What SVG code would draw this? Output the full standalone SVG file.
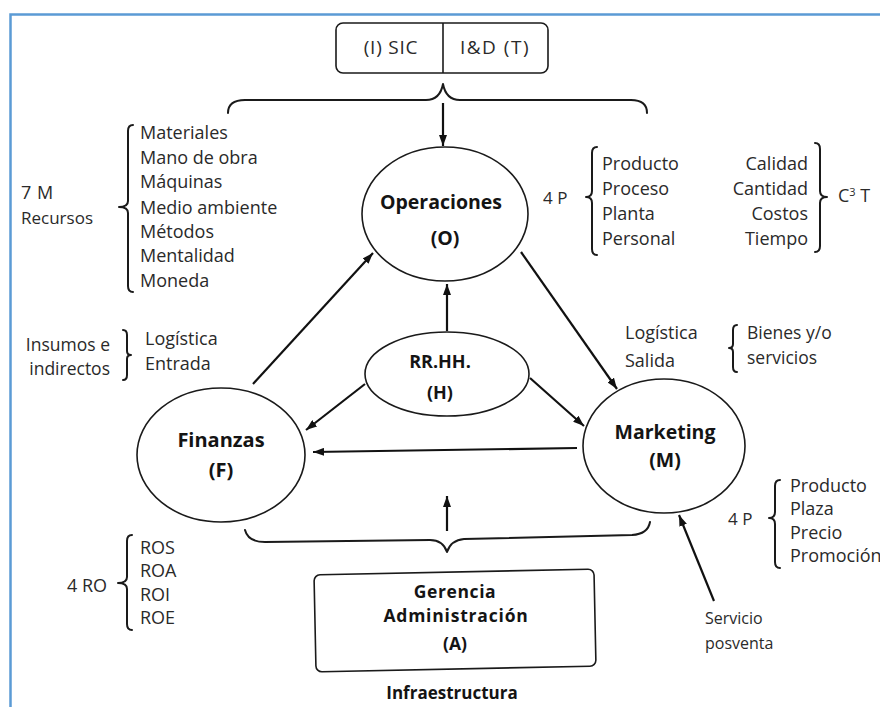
<svg xmlns="http://www.w3.org/2000/svg" width="880" height="707" viewBox="0 0 880 707">
  <defs>
    <marker id="arrow" markerUnits="userSpaceOnUse" markerWidth="12" markerHeight="8" refX="11" refY="4" orient="auto">
      <path d="M0,0 L11,4 L0,8 Z" fill="#111"/>
    </marker>
    <style>
      .txt { font-family: "Open Sans", "Noto Sans", "DejaVu Sans", sans-serif; font-size: 18px; fill: #2a2a2a; }
      .bold { font-family: "Open Sans", "Noto Sans", "DejaVu Sans", sans-serif; font-size: 19.5px; font-weight: 700; fill: #141414; text-anchor: middle; }
      .shape { fill: none; stroke: #1a1a1a; stroke-width: 1.6; }
      .conn { fill: none; stroke: #111; stroke-width: 2.2; }
      .brace { fill: none; stroke: #1a1a1a; stroke-width: 2; stroke-linejoin: round; stroke-linecap: round; }
      .end { text-anchor: end; }
      .mid { text-anchor: middle; }
    </style>
  </defs>

  <rect width="880" height="707" fill="#ffffff"/>
  <!-- frame -->
  <path d="M10.5,707 L10.5,14.5 L880,14.5" fill="none" stroke="#5b9bd5" stroke-width="2.5"/>

  <!-- connectors -->
  <g id="connectors">
    <line class="conn" x1="443" y1="103" x2="443" y2="146" marker-end="url(#arrow)"/>
    <line class="conn" x1="447" y1="331" x2="447" y2="284" marker-end="url(#arrow)"/>
    <line class="conn" x1="253" y1="384" x2="373" y2="253" marker-end="url(#arrow)"/>
    <line class="conn" x1="521" y1="252" x2="617" y2="389" marker-end="url(#arrow)"/>
    <line class="conn" x1="365" y1="384" x2="306" y2="430" marker-end="url(#arrow)"/>
    <line class="conn" x1="530" y1="378" x2="584" y2="426" marker-end="url(#arrow)"/>
    <line class="conn" x1="577" y1="448" x2="313" y2="452" marker-end="url(#arrow)"/>
    <line class="conn" x1="447" y1="531" x2="447" y2="496" marker-end="url(#arrow)"/>
    <line class="conn" x1="714" y1="601" x2="679" y2="515" marker-end="url(#arrow)"/>
  </g>

  <!-- top box: SIC / I&D -->
  <g id="top-box">
    <rect class="shape" x="336" y="23" width="212" height="50" rx="7"/>
    <line class="shape" x1="443" y1="23" x2="443" y2="73"/>
    <text class="txt mid" x="391" y="54" style="font-size:19px;letter-spacing:0.8px">(I) SIC</text>
    <text class="txt mid" x="495" y="54" style="font-size:19px;letter-spacing:1.5px">I&amp;D (T)</text>
  </g>

  <!-- braces -->
  <g id="braces">
    <path class="brace" d="M228,113 Q228,100 245,100 L426,100 Q440,100 443,84 Q446,100 460,100 L631,100 Q647,100 647,113"/>
    <path class="brace" d="M245,530 Q248,542 265,542 L430,540 Q443,540 447,552 Q451,540 464,539 L632,535 Q648,534 650,522"/>
    <!-- 7 M -->
    <path class="brace" d="M133,125 Q128,125 128,131 L128,201 Q128,207 119,207 Q128,207 128,213 L128,286 Q128,292 133,292"/>
    <!-- 4 P operaciones -->
    <path class="brace" d="M597,147 Q592,147 592,153 L592,191 Q592,197 586,197 Q592,197 592,203 L592,249 Q592,255 597,255"/>
    <!-- C3T -->
    <path class="brace" d="M815,143 Q820,143 820,149 L820,191 Q820,197 827,197 Q820,197 820,203 L820,246 Q820,252 815,252"/>
    <!-- Insumos -->
    <path class="brace" d="M123,330 Q127,330 127,335 L127,351 Q127,355 131,355 Q127,355 127,359 L127,375 Q127,380 123,380"/>
    <!-- Bienes -->
    <path class="brace" d="M737,325 Q733,325 733,330 L733,344 Q733,348 729,348 Q733,348 733,352 L733,367 Q733,372 737,372"/>
    <!-- 4 P marketing -->
    <path class="brace" d="M780,480 Q775,480 775,486 L775,512 Q775,518 769,518 Q775,518 775,524 L775,562 Q775,568 780,568"/>
    <!-- 4 RO -->
    <path class="brace" d="M132,535 Q127,535 127,541 L127,577 Q127,583 118,583 Q127,583 127,589 L127,624 Q127,630 132,630"/>
  </g>

  <!-- nodes -->
  <g id="operaciones">
    <ellipse class="shape" cx="445" cy="214" rx="83" ry="67"/>
    <text class="bold" x="441" y="209">Operaciones</text>
    <text class="bold" x="445" y="245">(O)</text>
  </g>
  <g id="rrhh">
    <ellipse class="shape" cx="447" cy="374" rx="82" ry="42"/>
    <text class="bold" x="440" y="368" style="font-size:18px">RR.HH.</text>
    <text class="bold" x="440" y="399" style="font-size:18px">(H)</text>
  </g>
  <g id="finanzas">
    <ellipse class="shape" cx="221" cy="455" rx="84" ry="67"/>
    <text class="bold" x="221" y="447" style="font-size:20px">Finanzas</text>
    <text class="bold" x="221" y="477" style="font-size:20px">(F)</text>
  </g>
  <g id="marketing">
    <ellipse class="shape" cx="664" cy="446" rx="81" ry="67"/>
    <text class="bold" x="665" y="439">Marketing</text>
    <text class="bold" x="665" y="467">(M)</text>
  </g>
  <g id="gerencia">
    <rect class="shape" x="315" y="572" width="280" height="97" rx="6" transform="rotate(-1.2 455 621)"/>
    <text class="bold" x="455" y="598" style="font-size:17.5px;letter-spacing:0.6px">Gerencia</text>
    <text class="bold" x="456" y="622" style="font-size:17.5px;letter-spacing:0.8px">Administración</text>
    <text class="bold" x="455" y="650" style="font-size:17.5px">(A)</text>
  </g>
  <text class="bold" x="452" y="699" style="font-size:17px">Infraestructura</text>

  <!-- side lists -->
  <g id="recursos">
    <text class="txt" x="21" y="199" style="font-size:18px;letter-spacing:0.5px">7 M</text>
    <text class="txt" x="21" y="224" style="font-size:17px">Recursos</text>
    <text class="txt" x="140" y="139">Materiales</text>
    <text class="txt" x="140" y="164">Mano de  obra</text>
    <text class="txt" x="140" y="188">Máquinas</text>
    <text class="txt" x="140" y="214">Medio ambiente</text>
    <text class="txt" x="140" y="238">Métodos</text>
    <text class="txt" x="140" y="262">Mentalidad</text>
    <text class="txt" x="140" y="287">Moneda</text>
  </g>
  <g id="cuatro-p-operaciones">
    <text class="txt" x="543" y="204" style="font-size:17px">4 P</text>
    <text class="txt" x="602" y="170">Producto</text>
    <text class="txt" x="602" y="195">Proceso</text>
    <text class="txt" x="602" y="220">Planta</text>
    <text class="txt" x="602" y="245">Personal</text>
    <text class="txt end" x="808" y="170">Calidad</text>
    <text class="txt end" x="808" y="195">Cantidad</text>
    <text class="txt end" x="808" y="220">Costos</text>
    <text class="txt end" x="808" y="245">Tiempo</text>
    <text class="txt" x="838" y="202">C<tspan dy="-6" style="font-size:11px">3</tspan><tspan dy="6"> T</tspan></text>
  </g>
  <g id="logistica-entrada">
    <text class="txt end" x="110" y="351" style="font-size:17.5px">Insumos e</text>
    <text class="txt end" x="110" y="375" style="font-size:17.5px">indirectos</text>
    <text class="txt" x="145" y="345">Logística</text>
    <text class="txt" x="145" y="370">Entrada</text>
  </g>
  <g id="logistica-salida">
    <text class="txt" x="625" y="339">Logística</text>
    <text class="txt" x="625" y="367">Salida</text>
    <text class="txt" x="747" y="339" style="font-size:17.5px">Bienes y/o</text>
    <text class="txt" x="747" y="364" style="font-size:17.5px">servicios</text>
  </g>
  <g id="cuatro-p-marketing">
    <text class="txt" x="728" y="525" style="font-size:17px">4 P</text>
    <text class="txt" x="790" y="492">Producto</text>
    <text class="txt" x="790" y="515">Plaza</text>
    <text class="txt" x="790" y="539">Precio</text>
    <text class="txt" x="790" y="562">Promoción</text>
  </g>
  <g id="cuatro-ro">
    <text class="txt" x="67" y="592">4 RO</text>
    <text class="txt" x="140" y="554">ROS</text>
    <text class="txt" x="140" y="577">ROA</text>
    <text class="txt" x="140" y="601">ROI</text>
    <text class="txt" x="140" y="624">ROE</text>
  </g>
  <g id="posventa">
    <text class="txt" x="705" y="624" style="font-size:16px">Servicio</text>
    <text class="txt" x="705" y="649" style="font-size:16px">posventa</text>
  </g>
</svg>
